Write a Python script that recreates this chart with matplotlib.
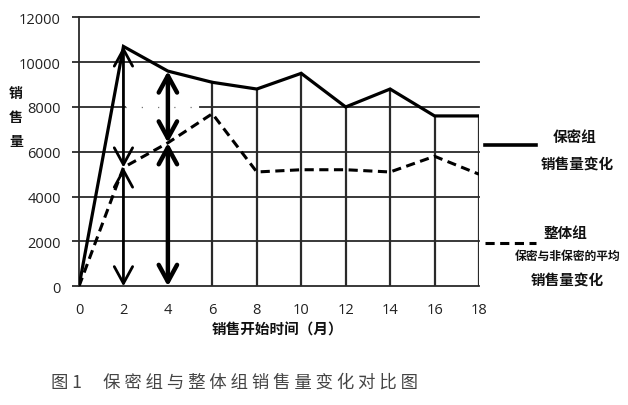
import matplotlib
matplotlib.use("Agg")
import matplotlib.pyplot as plt
from matplotlib.lines import Line2D

plt.rcParams['font.family'] = ['Noto Sans CJK SC', 'DejaVu Sans']

months = [0, 2, 4, 6, 8, 10, 12, 14, 16, 18]
secret_group = [0, 10700, 9600, 9100, 8800, 9500, 8000, 8800, 7600, 7600]
whole_group = [0, 5300, 6400, 7700, 5100, 5200, 5200, 5100, 5800, 5000]
y_ticks = [0, 2000, 4000, 6000, 8000, 10000, 12000]
arrow_months = [2, 4]
arrow_widths = [2.0, 3.2]

fig = plt.figure(figsize=(6.28, 4.06), dpi=100)
ax = fig.add_axes([79/628, 1-287.3/406, 400/628, (287.3-18.3)/406])
ax.set_xlim(0, 18)
ax.set_ylim(0, 12000)

grid_c = '#2a2a2a'
for yv in y_ticks[1:]:
    if yv == 8000:
        ax.plot([0, 2.05], [yv, yv], color=grid_c, lw=1.3, zorder=1, clip_on=False)
        ax.plot([5.45, 18], [yv, yv], color=grid_c, lw=1.3, zorder=1, clip_on=False)
        ax.plot([2.05, 5.45], [yv, yv], color='#777777', lw=0.9, ls=(0, (1, 12)), zorder=1)
    else:
        ax.plot([0, 18], [yv, yv], color=grid_c, lw=1.3, zorder=1, clip_on=False)

for m, v in zip(months, secret_group):
    if m == 0 or m in arrow_months:
        continue
    ax.plot([m, m], [0, v], color=grid_c, lw=1.6, zorder=1)

for m, w in zip(arrow_months, arrow_widths):
    i = months.index(m)
    top, mid = secret_group[i], whole_group[i]
    for a, b in [(mid, top), (0, mid)]:
        ax.annotate('', xy=(m, b), xytext=(m, a),
                    arrowprops=dict(arrowstyle='<->,head_length=0.55,head_width=0.3',
                                    lw=w, color='black', mutation_scale=22,
                                    shrinkA=0, shrinkB=0), zorder=3)

ax.plot(months, secret_group, color='black', lw=2.3, zorder=4, solid_joinstyle='miter')
ax.plot(months, whole_group, color='black', lw=2.2, dashes=(3, 1.8), zorder=4)

for s in ['top', 'right']:
    ax.spines[s].set_visible(False)
for s in ['left', 'bottom']:
    ax.spines[s].set_linewidth(1.3)
    ax.spines[s].set_color(grid_c)

ax.set_xticks(months)
ax.set_xticklabels([str(m) for m in months])
ax.set_yticks(y_ticks)
ax.set_yticklabels([str(v) for v in y_ticks])
ax.tick_params(axis='y', length=5, width=1.3, color=grid_c, pad=8, labelsize=10.5, labelcolor='#222222')
ax.tick_params(axis='x', length=0, pad=11, labelsize=10.5, labelcolor='#222222')
for lab in ax.get_xticklabels() + ax.get_yticklabels():
    lab.set_family(['Open Sans', 'DejaVu Sans'])

fig.text(278/628, 1-330/406, '销售开始时间（月）', ha='center', va='center', fontsize=10.5, weight='bold', color='#111111')
fig.text(16/628, 1-118/406, '销\n售\n量', ha='center', va='center', fontsize=10, weight='bold', color='#111111', linespacing=1.9)

fig.add_artist(Line2D([485/628, 536/628], [1-146/406, 1-146/406], color='black', lw=2.6))
fig.add_artist(Line2D([485/628, 536/628], [1-244/406, 1-244/406], color='black', lw=2.2, dashes=(3, 1.8)))
fig.text(575/628, 1-137/406, '保密组', ha='center', va='center', fontsize=10.5, weight='bold', color='#111111')
fig.text(577/628, 1-164/406, '销售量变化', ha='center', va='center', fontsize=10.5, weight='bold', color='#111111')
fig.text(565/628, 1-233/406, '整体组', ha='center', va='center', fontsize=10.5, weight='bold', color='#111111')
fig.text(568/628, 1-256/406, '保密与非保密的平均', ha='center', va='center', fontsize=8.5, weight='bold', color='#111111')
fig.text(567/628, 1-280/406, '销售量变化', ha='center', va='center', fontsize=10.5, weight='bold', color='#111111')

fig.text(235/628, 1-383/406, '图 1　 保 密 组 与 整 体 组 销 售 量 变 化 对 比 图', ha='center', va='center',
         fontsize=12.5, weight='light', color='#444444')

fig.savefig('out.png', dpi=100)
